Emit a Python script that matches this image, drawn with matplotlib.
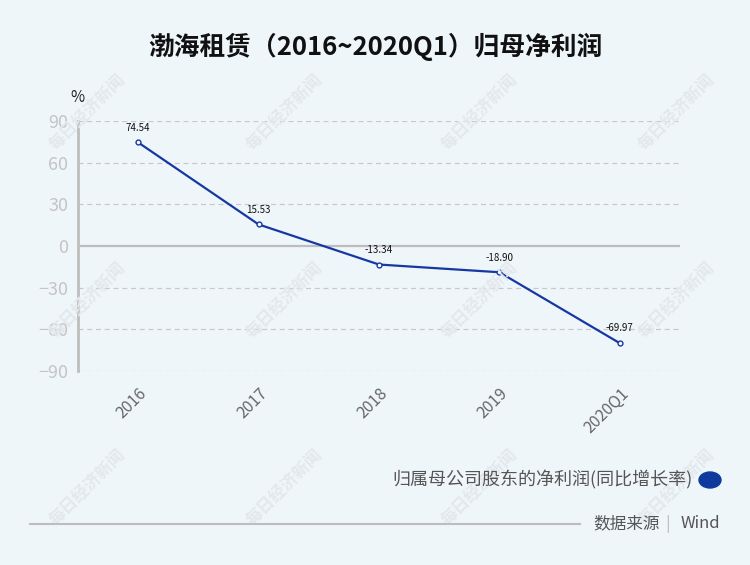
import matplotlib.pyplot as plt
from matplotlib.patches import Ellipse
from matplotlib.lines import Line2D

plt.rcParams['font.family'] = ['Noto Sans CJK SC', 'DejaVu Sans']

years = ['2016', '2017', '2018', '2019', '2020Q1']
growth = [74.54, 15.53, -13.34, -18.90, -69.97]
yticks = [90, 60, 30, 0, -30, -60, -90]

bg = '#eff6fa'
line_color = '#1737a3'

fig = plt.figure(figsize=(7.5, 5.65), dpi=100, facecolor=bg)
ax = fig.add_axes([78 / 750, 194 / 565, 602 / 750, 250 / 565])
ax.set_facecolor(bg)

# watermarks
for wy in [112, 300, 487]:
    for wx in [88, 285, 480, 677]:
        fig.text(wx / 750, 1 - wy / 565, '每日经济新闻', rotation=45, fontsize=12,
                 fontweight='bold', color='#e2e8ec', ha='center', va='center', zorder=0)

x = list(range(len(years)))
ax.plot(x, growth, color=line_color, lw=1.6, marker='o', markersize=3.5,
        markerfacecolor='white', markeredgecolor=line_color, markeredgewidth=1, zorder=3)
for xi, v in zip(x, growth):
    ax.annotate(f'{v:.2f}', (xi, v), xytext=(0, 7), textcoords='offset points',
                ha='center', va='bottom', fontsize=7, color='#111111', zorder=4)

ax.set_xlim(-0.5, len(years) - 0.5)
ax.set_ylim(-90, 90)
ax.set_yticks(yticks)
ax.set_xticks(x)
ax.set_xticklabels(years, rotation=45, ha='right', rotation_mode='anchor',
                   fontsize=11.5, color='#666666')
ax.tick_params(axis='x', length=0, pad=10)
ax.tick_params(axis='y', length=0, pad=7, labelsize=13, labelcolor='#c4c4c4')

for t in yticks:
    if t != 0:
        ax.axhline(t, color='#c8c8c8', lw=0.9, ls=(0, (4, 3)), zorder=1)
ax.axhline(0, color='#bdbdbd', lw=1.6, zorder=2)

for s in ['top', 'right', 'bottom']:
    ax.spines[s].set_visible(False)
ax.spines['left'].set_color('#bdbdbd')
ax.spines['left'].set_linewidth(2)

fig.text(77 / 750, 1 - 98 / 565, '%', fontsize=11, color='#222222', ha='center', va='center')
fig.text(375 / 750, 1 - 47 / 565, '渤海租赁（2016~2020Q1）归母净利润', fontsize=18.5,
         fontweight='bold', color='#111111', ha='center', va='center')

# legend
fig.text(693 / 750, 1 - 480 / 565, '归属母公司股东的净利润(同比增长率)', fontsize=13,
         color='#555555', ha='right', va='center')
fig.add_artist(Ellipse((710 / 750, 1 - 480 / 565), 22 / 750, 16 / 565,
                       transform=fig.transFigure, color='#0e3a9e'))

# footer
fig.add_artist(Line2D([30 / 750, 580 / 750], [1 - 524 / 565] * 2,
                      transform=fig.transFigure, color='#bdbdbd', lw=1.5))
fig.text(593 / 750, 1 - 524 / 565, '数据来源', fontsize=12, color='#555555', ha='left', va='center')
fig.text(668 / 750, 1 - 524 / 565, '|', fontsize=12, color='#bbbbbb', ha='center', va='center')
fig.text(720 / 750, 1 - 524 / 565, 'Wind', fontsize=12, color='#555555', ha='right', va='center')

fig.savefig('out.png', dpi=100, facecolor=bg)
